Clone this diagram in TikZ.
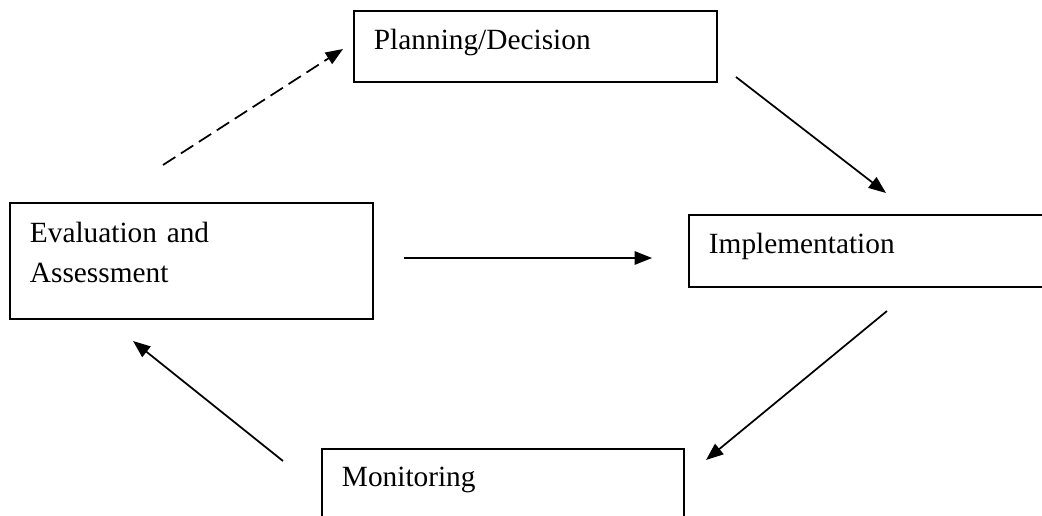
\documentclass[tikz,border=0pt]{standalone}
\usepackage{fontspec}
\setmainfont{Liberation Serif}
\usetikzlibrary{arrows.meta}

\begin{document}
\begin{tikzpicture}[x=0.75pt, y=-0.75pt]%
  \tikzset{normal arrow/.style={draw,-{Triangle[length=13pt,width=10pt]},line width=1.3pt,black}}
  \tikzset{stage/.style={draw, rectangle, anchor=north west, line width=1.4pt, align=left, inner xsep=15pt, inner ysep=0pt, text height=29.25pt, font=\fontsize{22}{30}\selectfont}}
  \useasboundingbox (0,0) rectangle (1042,516);

  \node[stage, text width=242.25pt, text depth=24pt] at (353,10) (plan) {Planning/Decision};
  \node[stage, text width=242.25pt, text depth=57pt, text height=30pt] at (9,202) (eval) {Evaluation and\\Assessment};
  \node[stage, text width=250.5pt, text depth=24.75pt] at (688,214) (impl) {Implementation};
  \node[stage, text width=241.5pt, text depth=40.5pt, text height=28.5pt] at (321,448) (mon) {Monitoring};

  \coordinate (eval up) at (163,165);
  \coordinate (plan in) at (343,49);
  \coordinate (plan out) at (736,77);
  \coordinate (impl top) at (886,193);
  \coordinate (eval out) at (404,258);
  \coordinate (impl in) at (652,258);
  \coordinate (impl out) at (887,311);
  \coordinate (mon in) at (706,460);
  \coordinate (mon out) at (283,461);
  \coordinate (eval in) at (133,341);

  \path[normal arrow, dash pattern=on 11pt off 5pt] (eval up) -- (plan in);
  \path[normal arrow] (plan out) -- (impl top);
  \path[normal arrow] (eval out) -- (impl in);
  \path[normal arrow] (impl out) -- (mon in);
  \path[normal arrow] (mon out) -- (eval in);

\end{tikzpicture}
\end{document}
